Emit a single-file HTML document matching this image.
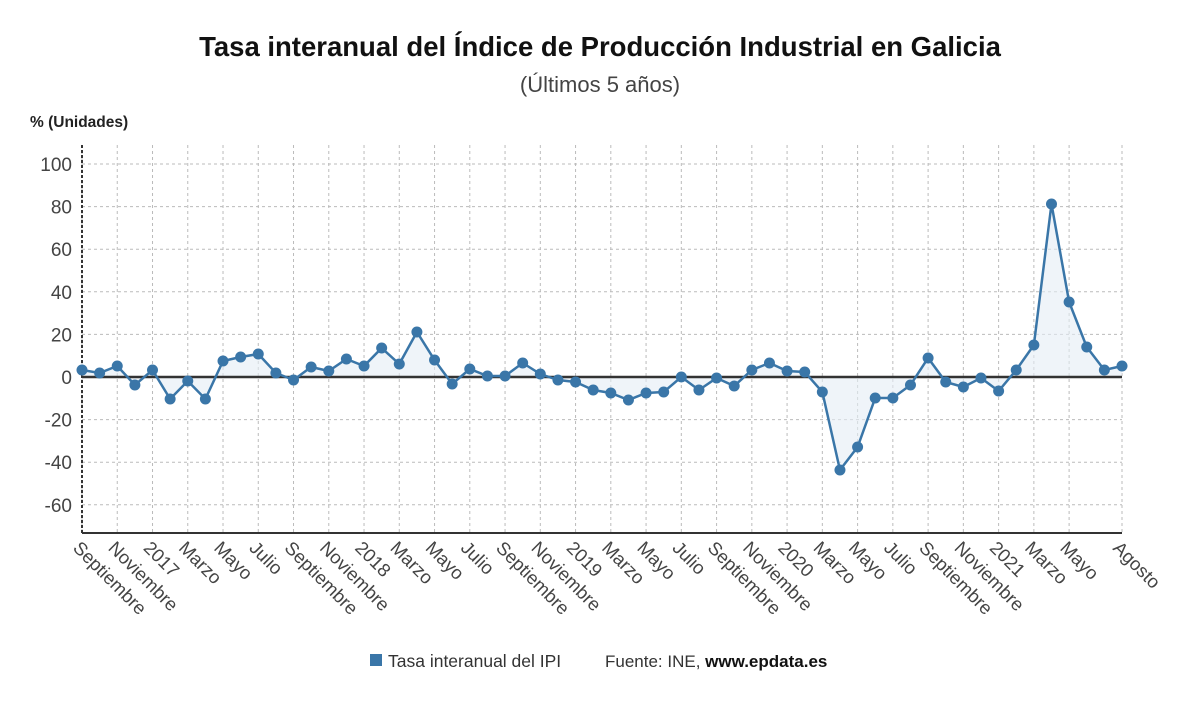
<!DOCTYPE html>
<html><head><meta charset="utf-8"><style>
body{margin:0;background:#fff;}
svg text{font-family:"Liberation Sans",sans-serif;}
</style></head><body>
<svg width="1200" height="705" xmlns="http://www.w3.org/2000/svg">
<text x="600" y="56" text-anchor="middle" font-size="27.5" font-weight="bold" fill="#111">Tasa interanual del Índice de Producción Industrial en Galicia</text>
<text x="600" y="92" text-anchor="middle" font-size="22" fill="#444">(Últimos 5 años)</text>
<text x="30" y="127" font-size="15.5" font-weight="bold" fill="#222">% (Unidades)</text>
<g id="grid" stroke="#bbb" stroke-dasharray="3,3" stroke-width="1"></g>
<g id="yl" font-size="19" fill="#444" text-anchor="end"></g>
<g id="xl" font-size="18.5" fill="#444"></g>
<line x1="82" y1="145" x2="82" y2="533" stroke="#333" stroke-width="2" stroke-dasharray="3,2"/>
<line x1="82" y1="533" x2="1122" y2="533" stroke="#333" stroke-width="2"/>
<polygon id="area" fill="#e4edf5" fill-opacity="0.6"/>
<line x1="82" y1="377" x2="1122" y2="377" stroke="#333" stroke-width="2.5"/>
<polyline id="ln" fill="none" stroke="#3a76a8" stroke-width="2.5"/>
<g id="dots" fill="#3a76a8"></g>
<rect x="370" y="654" width="12" height="12" fill="#3a76a8"/>
<text x="388" y="667" font-size="17.5" fill="#333">Tasa interanual del IPI</text>
<text x="605" y="667" font-size="17" fill="#333">Fuente: INE, <tspan font-weight="bold" fill="#111">www.epdata.es</tspan></text>
</svg>
<script>
const ys=[370,373,366,385,370,399,381,399,361,357,354,373,380,367,371,359,366,348,364,332,360,384,369,376,376,363,374,380,382,390,393,400,393,392,377,390,378,386,370,363,371,372,392,470,447,398,398,385,358,382,387,378,391,370,345,204,302,347,370,366];
const NS="http://www.w3.org/2000/svg";
const dx=(1122-82)/59;
function el(t,a,p,txt){const e=document.createElementNS(NS,t);for(const k in a)e.setAttribute(k,a[k]);if(txt)e.textContent=txt;p.appendChild(e);return e;}
const g=document.getElementById('grid'),yl=document.getElementById('yl'),xl=document.getElementById('xl');
for(let v=-60;v<=100;v+=20){const y=377-v*2.13;el('line',{x1:82,x2:1122,y1:y,y2:y},g);el('text',{x:72,y:y+7},yl,String(v));}
const labs=["Septiembre","Noviembre","2017","Marzo","Mayo","Julio","Septiembre","Noviembre","2018","Marzo","Mayo","Julio","Septiembre","Noviembre","2019","Marzo","Mayo","Julio","Septiembre","Noviembre","2020","Marzo","Mayo","Julio","Septiembre","Noviembre","2021","Marzo","Mayo"];
labs.push("Agosto");
labs.forEach((l,i)=>{const idx=i<29?i*2:59;const x=82+idx*dx;el('line',{x1:x,x2:x,y1:145,y2:533},g);el('text',{x:x-10,y:549,transform:`rotate(45 ${x-10} 549)`},xl,l);});
const pts=ys.map((y,i)=>[82+i*dx,y]);
document.getElementById('ln').setAttribute('points',pts.map(p=>p.join(',')).join(' '));
document.getElementById('area').setAttribute('points','82,377 '+pts.map(p=>p.join(',')).join(' ')+' 1122,377');
const d=document.getElementById('dots');pts.forEach(p=>el('circle',{cx:p[0],cy:p[1],r:5.5},d));
</script>
</body></html>
